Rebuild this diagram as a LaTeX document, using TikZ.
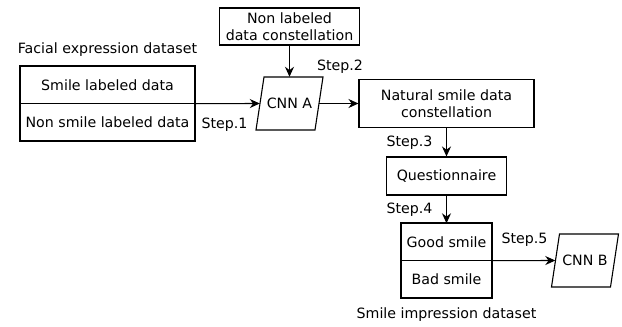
\documentclass[tikz,border=0pt]{standalone}
\usepackage{fontspec}
\setmainfont{DejaVu Sans}
\usetikzlibrary{arrows.meta}

\newcommand{\cnnshape}[1]{%
  \draw[line width=1.1pt] ([shift={(-25.5,-26.5)}]#1.center) -- ([shift={(33.5,-26.5)}]#1.center)
    -- ([shift={(25.5,26.5)}]#1.center) -- ([shift={(-33.5,26.5)}]#1.center) -- cycle;}

\begin{document}
\begin{tikzpicture}[x=1pt,y=-1pt,
  font=\fontsize{14.2}{17}\selectfont,
  box/.style={draw,line width=1.1pt,inner sep=0pt,align=center},
  cell/.style={inner sep=0pt,minimum height=37pt,align=center},
  cnn/.style={inner sep=0pt,minimum width=59pt,minimum height=53pt},
  flow/.style={-{Stealth[length=10pt,width=9pt]},line width=1.1pt}]
  \useasboundingbox (0,0) rectangle (622,327);
  % facial expression dataset
  \node (facial) at (107.5,50) {Facial expression dataset};
  \node[cell,minimum width=175pt] (smile) at (107.5,85) {Smile labeled data};
  \node[cell,minimum width=175pt] (nonsmile) at (107.5,122) {Non smile labeled data};
  \draw[line width=1.7pt] (smile.north west) rectangle (nonsmile.south east);
  \draw[line width=1.2pt] (smile.south west) -- (smile.south east);
  % first network
  \node[box,minimum width=140pt,minimum height=37pt] (nonlab) at (289.5,26.5) {Non labeled\\data constellation};
  \node[cnn] (cnna) at (289.5,103.5) {CNN A};
  \cnnshape{cnna}
  \node[box,minimum width=175pt,minimum height=48pt] (natural) at (446.5,103.5) {Natural smile data\\constellation};
  \node[box,minimum width=120pt,minimum height=38pt] (quest) at (446.5,176) {Questionnaire};
  % smile impression dataset
  \node[cell,minimum width=90pt] (good) at (446.5,242) {Good smile};
  \node[cell,minimum width=90pt] (bad) at (446.5,279) {Bad smile};
  \draw[line width=1.7pt] (good.north west) rectangle (bad.south east);
  \draw[line width=1.2pt] (good.south west) -- (good.south east);
  \node (impr) at (446.5,315) {Smile impression dataset};
  \node[cnn] (cnnb) at (585,260.5) {CNN B};
  \cnnshape{cnnb}
  % steps
  \node (step1) at (224.5,125) {Step.1};
  \node (step2) at (340,67) {Step.2};
  \node (step3) at (409.5,143) {Step.3};
  \node (step4) at (409.5,210) {Step.4};
  \node (step5) at (524.5,240) {Step.5};
  \draw[flow] (smile.south east) -- (cnna.west);
  \draw[flow] (nonlab) -- (cnna);
  \draw[flow] (cnna.east) -- (natural.west);
  \draw[flow] (natural) -- (quest);
  \draw[flow] (quest) -- (good);
  \draw[flow] (good.south east) -- (cnnb.west);
\end{tikzpicture}
\end{document}
